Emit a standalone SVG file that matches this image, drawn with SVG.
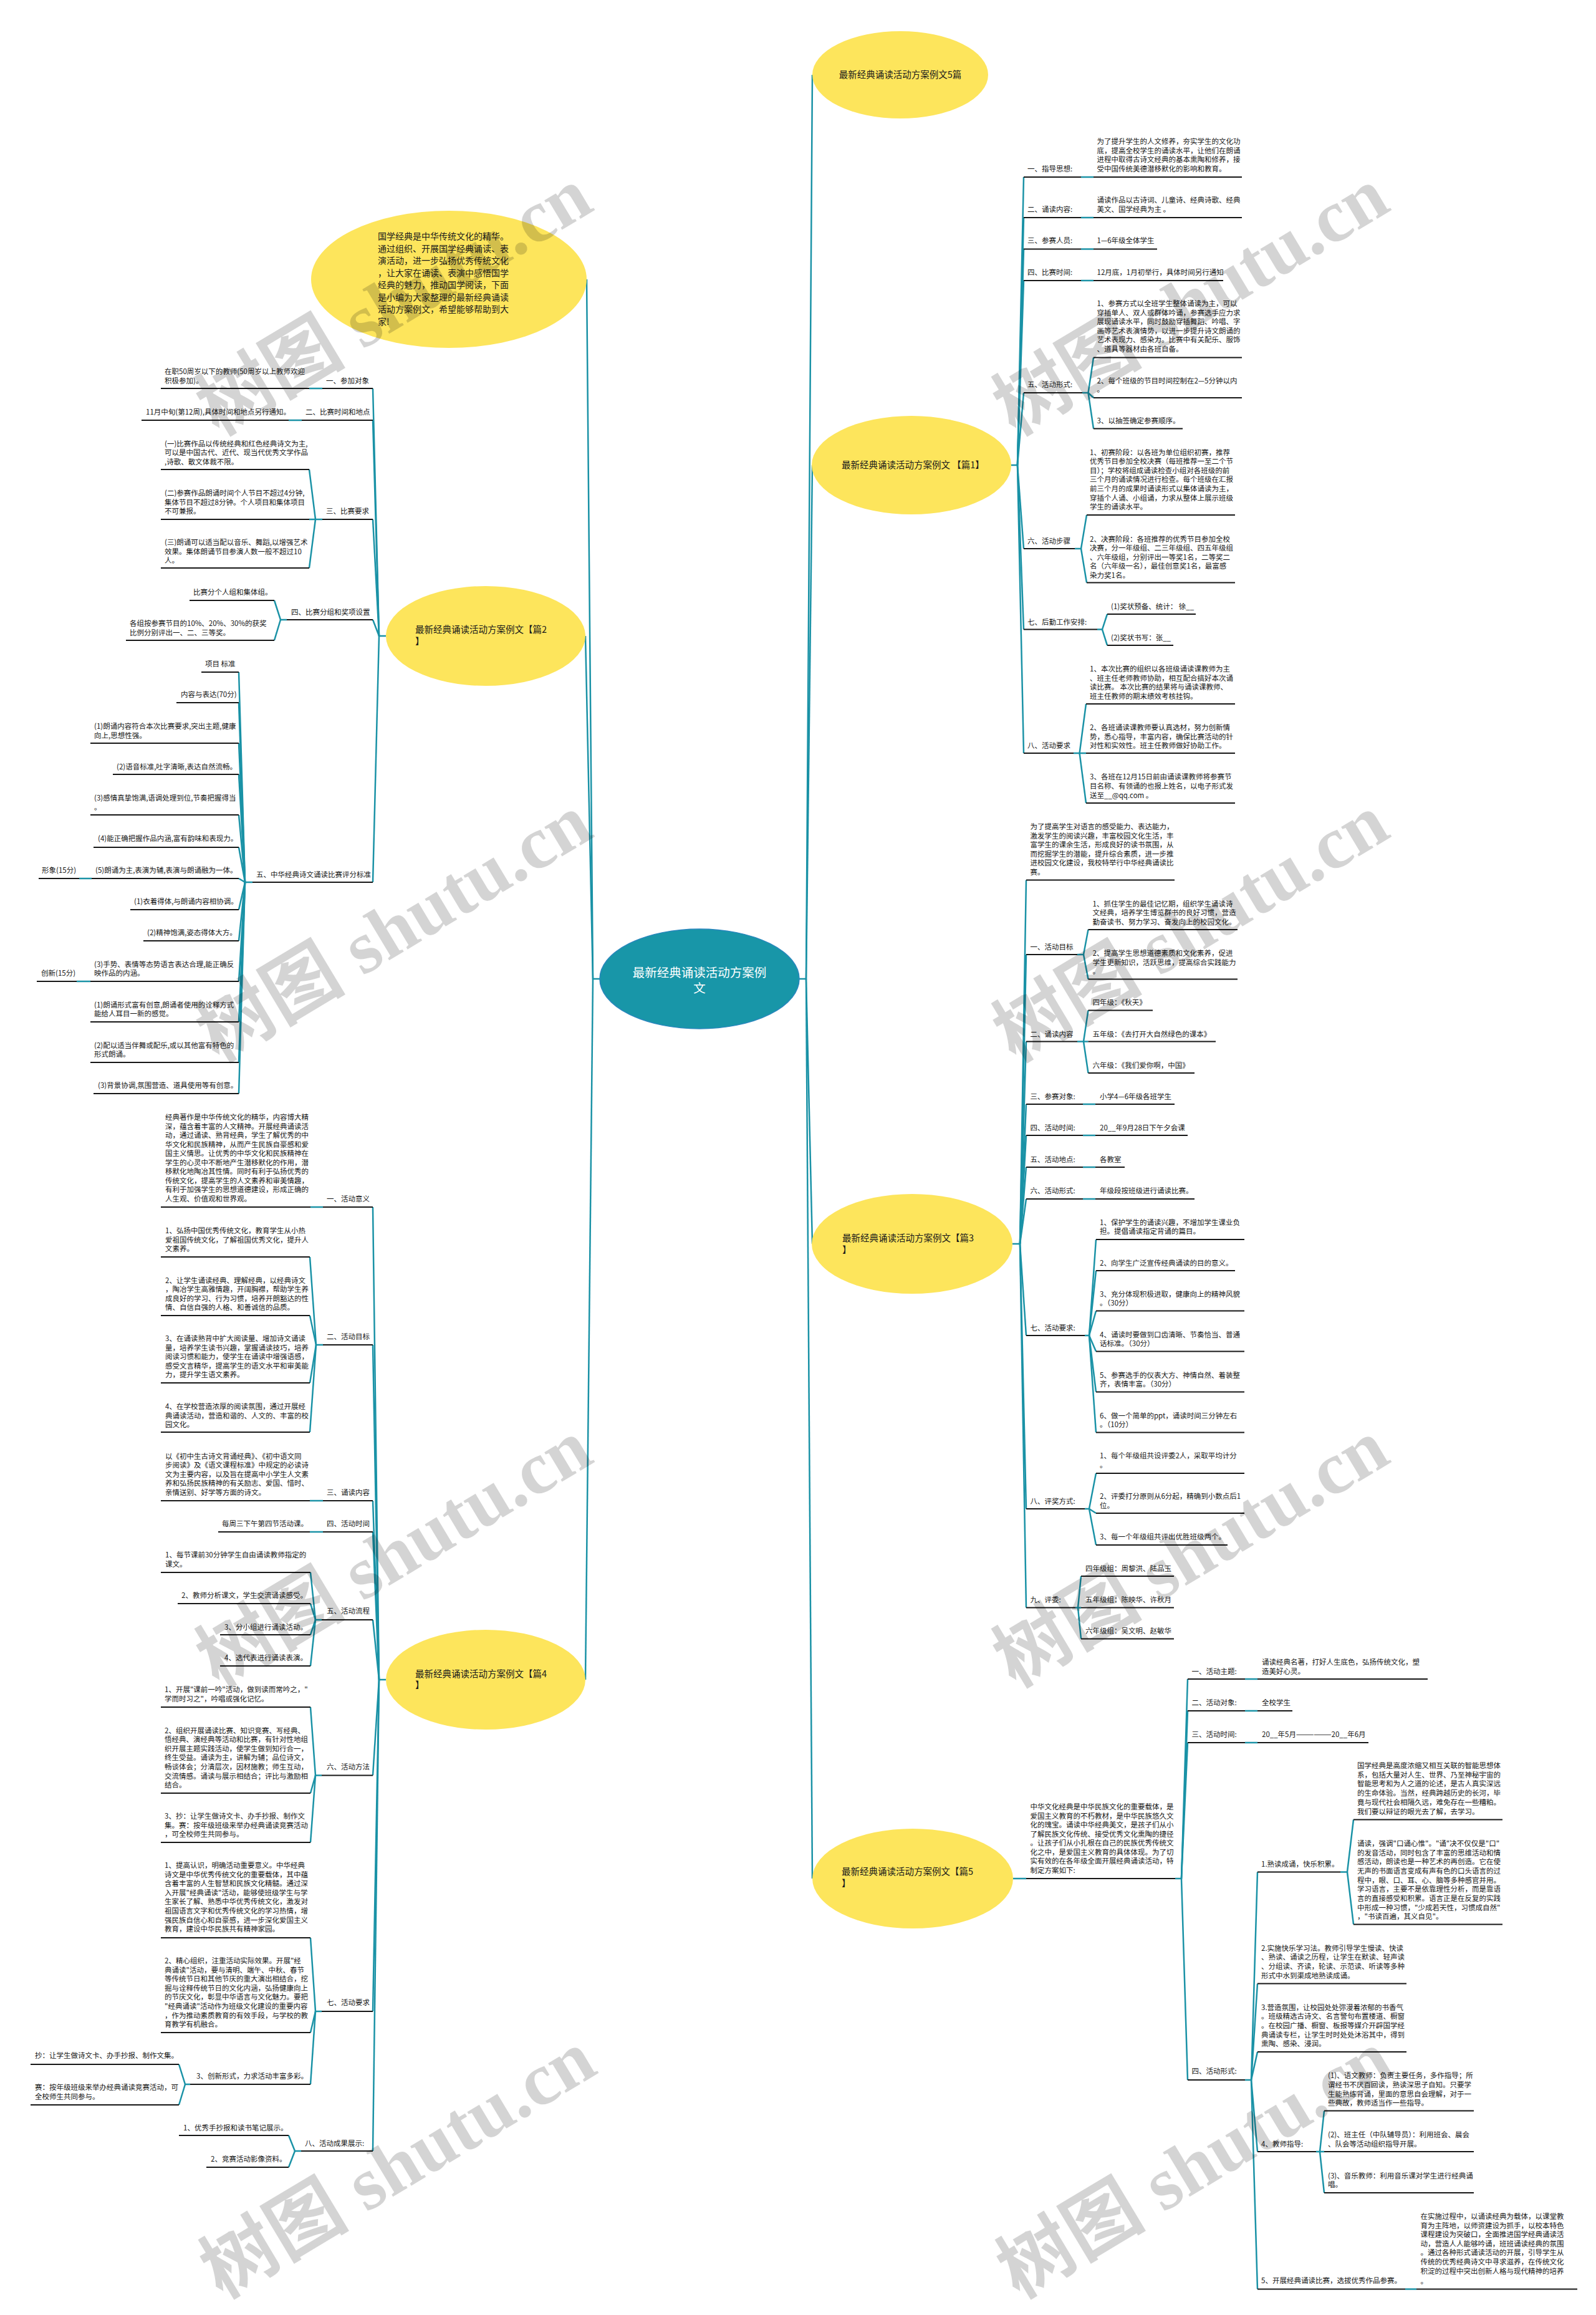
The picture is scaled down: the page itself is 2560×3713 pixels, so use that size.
<svg xmlns="http://www.w3.org/2000/svg" width="2560" height="3713" viewBox="0 0 2560 3713">
<style>
.t{font-family:"Noto Sans CJK SC","Noto Sans",sans-serif;font-size:11.5px;fill:#151515}
.h{font-family:"Noto Sans CJK SC","Noto Sans",sans-serif;font-size:14.5px;fill:#1a1a1a}
.i{font-family:"Noto Sans CJK SC","Noto Sans",sans-serif;font-size:14px;fill:#1a1a1a}
.u{stroke:#161616;stroke-width:2}
.el{fill:#fde55c}
#connectors path{stroke:#1a92a6;stroke-width:2.5;fill:none}
.wm{font-family:"Liberation Serif","Noto Sans CJK SC",serif;font-size:120px;font-weight:bold;fill:#000;fill-opacity:0.17}
</style>
<rect width="2560" height="3713" fill="#ffffff"/>

<g id="connectors">
<path d="M962,1570 H951 L941,448"/>
<path d="M951,1570 L939,1020"/>
<path d="M951,1570 L939,2694"/>
<path d="M1282,1570 H1293 L1303,120"/>
<path d="M1293,1570 L1303,746"/>
<path d="M1293,1570 L1303,1995"/>
<path d="M1293,1570 L1303,3013"/>
<path d="M619,1020 H608 L598,623"/>
<path d="M608,1020 L598,674"/>
<path d="M608,1020 L598,833"/>
<path d="M608,1020 L598,994"/>
<path d="M608,1020 L598,1415"/>
<path d="M496,623 H517"/>
<path d="M463,674 H484"/>
<path d="M517,833 H506 L496,753"/>
<path d="M506,833 H496"/>
<path d="M506,833 L496,911"/>
<path d="M460,994 H450 L440,963"/>
<path d="M450,994 L440,1027"/>
<path d="M405,1415 H393 L383,1078"/>
<path d="M393,1415 L383,1127"/>
<path d="M393,1415 L383,1192"/>
<path d="M393,1415 L383,1242"/>
<path d="M393,1415 L383,1307"/>
<path d="M393,1415 L383,1359"/>
<path d="M393,1415 L383,1409"/>
<path d="M393,1415 L383,1459"/>
<path d="M393,1415 L383,1509"/>
<path d="M393,1415 L383,1574"/>
<path d="M393,1415 L383,1639"/>
<path d="M393,1415 L383,1704"/>
<path d="M393,1415 L383,1754"/>
<path d="M127,1409 H147"/>
<path d="M123,1574 H145"/>
<path d="M619,2694 H608 L598,1936"/>
<path d="M608,2694 L598,2157"/>
<path d="M608,2694 L598,2407"/>
<path d="M608,2694 L598,2457"/>
<path d="M608,2694 L598,2598"/>
<path d="M608,2694 L598,2847.5"/>
<path d="M608,2694 L598,3226"/>
<path d="M608,2694 L598,3450"/>
<path d="M498,1936 H518"/>
<path d="M518,2157 H507 L497,2016"/>
<path d="M507,2157 L497,2110"/>
<path d="M507,2157 L497,2218"/>
<path d="M507,2157 L497,2297"/>
<path d="M497,2407 H518"/>
<path d="M497,2457 H518"/>
<path d="M516,2598 H506 L498,2522"/>
<path d="M506,2598 L498,2572"/>
<path d="M506,2598 L498,2622"/>
<path d="M506,2598 L498,2672"/>
<path d="M516,2847.5 H506 L498,2738"/>
<path d="M506,2847.5 L498,2876"/>
<path d="M506,2847.5 L498,2955"/>
<path d="M516,3226 H506 L498,3108"/>
<path d="M506,3226 L498,3260"/>
<path d="M506,3226 L498,3343"/>
<path d="M305,3343 H297 L287,3311"/>
<path d="M297,3343 L287,3376"/>
<path d="M483,3450 H473 L463,3425"/>
<path d="M473,3450 L463,3476"/>
<path d="M1622,746 H1632 L1642,284"/>
<path d="M1632,746 L1642,349"/>
<path d="M1632,746 L1642,399.5"/>
<path d="M1632,746 L1642,450"/>
<path d="M1632,746 L1642,630"/>
<path d="M1632,746 L1642,880"/>
<path d="M1632,746 L1642,1009.6"/>
<path d="M1632,746 L1642,1208"/>
<path d="M1734,284 H1754"/>
<path d="M1734,349 H1754"/>
<path d="M1734,399.5 H1754"/>
<path d="M1734,450 H1754"/>
<path d="M1736,630 H1745.5 L1754,573.5"/>
<path d="M1745.5,630 L1754,638"/>
<path d="M1745.5,630 L1754,687.5"/>
<path d="M1724,880 H1734 L1743,826"/>
<path d="M1734,880 L1743,934.5"/>
<path d="M1760,1009.6 H1768 L1776,985"/>
<path d="M1768,1009.6 L1776,1035"/>
<path d="M1722,1208 H1731.6 L1742,1129"/>
<path d="M1731.6,1208 H1742"/>
<path d="M1731.6,1208 L1742,1288"/>
<path d="M1624,1995 H1636 L1646,1411.6"/>
<path d="M1636,1995 L1646,1531"/>
<path d="M1636,1995 L1646,1670.5"/>
<path d="M1636,1995 L1646,1771"/>
<path d="M1636,1995 L1646,1821"/>
<path d="M1636,1995 L1646,1872"/>
<path d="M1636,1995 L1646,1923"/>
<path d="M1636,1995 L1646,2142"/>
<path d="M1636,1995 L1646,2420"/>
<path d="M1636,1995 L1646,2578.6"/>
<path d="M1728,1531 H1738 L1745.5,1491"/>
<path d="M1738,1531 L1745.5,1570.5"/>
<path d="M1728,1670.5 H1738 L1745.5,1620.5"/>
<path d="M1738,1670.5 H1745.5"/>
<path d="M1738,1670.5 L1745.5,1721"/>
<path d="M1737,1771 H1757"/>
<path d="M1737,1821 H1757"/>
<path d="M1737,1872 H1757"/>
<path d="M1737,1923 H1757"/>
<path d="M1740,2142 H1747 L1758,1988"/>
<path d="M1747,2142 L1758,2038"/>
<path d="M1747,2142 L1758,2102.6"/>
<path d="M1747,2142 L1758,2167.6"/>
<path d="M1747,2142 L1758,2232.5"/>
<path d="M1747,2142 L1758,2297.5"/>
<path d="M1740,2420 H1747 L1758,2363"/>
<path d="M1747,2420 L1758,2427"/>
<path d="M1747,2420 L1758,2478"/>
<path d="M1725,2578.6 H1729 L1734,2528"/>
<path d="M1729,2578.6 H1734"/>
<path d="M1729,2578.6 L1734,2628.5"/>
<path d="M1625,3013 H1646"/>
<path d="M1885,3013 H1895 L1905,2693"/>
<path d="M1895,3013 L1905,2744"/>
<path d="M1895,3013 L1905,2795"/>
<path d="M1895,3013 L1905,3336"/>
<path d="M1997,2693 H2017"/>
<path d="M1997,2744 H2017"/>
<path d="M1997,2795 H2017"/>
<path d="M1997,3336 H2007 L2017,3002.5"/>
<path d="M2007,3336 L2017,3181.5"/>
<path d="M2007,3336 L2017,3291"/>
<path d="M2007,3336 L2017,3451"/>
<path d="M2007,3336 L2017,3671.5"/>
<path d="M2150,3002.5 H2161 L2171,2918.5"/>
<path d="M2161,3002.5 L2171,3086.4"/>
<path d="M2111,3451 H2117 L2124,3385.6"/>
<path d="M2117,3451 H2124"/>
<path d="M2117,3451 L2124,3517"/>
<path d="M2254,3671.5 H2272"/>
</g>

<!-- ellipses -->
<g id="root"><ellipse cx="1122" cy="1570" rx="160" ry="80" fill="#1896a8" stroke="#2a86bd" stroke-width="1.5"/>
<text x="1122" y="1567" text-anchor="middle" style="font-family:'Noto Sans CJK SC',sans-serif;font-size:19.5px;fill:#ffffff">最新经典诵读活动方案例</text>
<text x="1122" y="1592" text-anchor="middle" style="font-family:'Noto Sans CJK SC',sans-serif;font-size:19.5px;fill:#ffffff">文</text></g>
<g id="intro"><ellipse class="el" cx="720" cy="448" rx="221" ry="110"/>
<text class="i"><tspan x="606" y="384">国学经典是中华传统文化的精华。</tspan><tspan x="606" y="403.5">通过组织、开展国学经典诵读、表</tspan><tspan x="606" y="423">演活动，进一步弘扬优秀传统文化</tspan><tspan x="606" y="442.5">，让大家在诵读、表演中感悟国学</tspan><tspan x="606" y="462">经典的魅力，推动国学阅读，下面</tspan><tspan x="606" y="481.6">是小编为大家整理的最新经典诵读</tspan><tspan x="606" y="501">活动方案例文，希望能够帮助到大</tspan><tspan x="606" y="520.6">家!</tspan></text></g>
<g id="p2"><ellipse class="el" cx="779" cy="1020" rx="160" ry="80"/>
<text class="h"><tspan x="666" y="1015">最新经典诵读活动方案例文【篇2</tspan><tspan x="666" y="1034">】</tspan></text></g>
<g id="p4"><ellipse class="el" cx="779" cy="2694" rx="160" ry="80"/>
<text class="h"><tspan x="666" y="2690">最新经典诵读活动方案例文【篇4</tspan><tspan x="666" y="2708">】</tspan></text></g>
<g id="p0"><ellipse class="el" cx="1444" cy="120" rx="141" ry="70"/>
<text class="h" x="1444" y="125" text-anchor="middle">最新经典诵读活动方案例文5篇</text></g>
<g id="p1"><ellipse class="el" cx="1462" cy="746" rx="160" ry="79"/>
<text class="h" x="1350" y="751">最新经典诵读活动方案例文 【篇1】</text></g>
<g id="p3"><ellipse class="el" cx="1463" cy="1995" rx="161" ry="80"/>
<text class="h"><tspan x="1351" y="1991">最新经典诵读活动方案例文【篇3</tspan><tspan x="1351" y="2010">】</tspan></text></g>
<g id="p5"><ellipse class="el" cx="1464" cy="3013" rx="161" ry="80"/>
<text class="h"><tspan x="1350" y="3007">最新经典诵读活动方案例文【篇5</tspan><tspan x="1350" y="3026">】</tspan></text></g>

<!-- 篇2 -->
<g id="L2_1"><text class="t" x="523" y="614.6">一、参加对象</text><line class="u" x1="517" y1="623" x2="598" y2="623"/></g>
<g id="L2_1a"><text class="t"><tspan x="264" y="600">在职50周岁以下的教师(50周岁以上教师欢迎</tspan><tspan x="264" y="614.6">积极参加)。</tspan></text><line class="u" x1="258" y1="623" x2="496" y2="623"/></g>
<g id="L2_2"><text class="t" x="490" y="665">二、比赛时间和地点</text><line class="u" x1="484" y1="674" x2="598" y2="674"/></g>
<g id="L2_2a"><text class="t" x="234" y="665">11月中旬(第12周),具体时间和地点另行通知。</text><line class="u" x1="227" y1="674" x2="463" y2="674"/></g>
<g id="L2_3"><text class="t" x="523" y="824">三、比赛要求</text><line class="u" x1="517" y1="833" x2="598" y2="833"/></g>
<g id="L2_3a"><text class="t"><tspan x="264" y="715.6">(一)比赛作品以传统经典和红色经典诗文为主,</tspan><tspan x="264" y="730">可以是中国古代、近代、现当代优秀文学作品</tspan><tspan x="264" y="744.6">,诗歌、散文体裁不限。</tspan></text><line class="u" x1="258" y1="753" x2="496" y2="753"/></g>
<g id="L2_3b"><text class="t"><tspan x="264" y="795">(二)参赛作品朗诵时间个人节目不超过4分钟,</tspan><tspan x="264" y="810">集体节目不超过8分钟。个人项目和集体项目</tspan><tspan x="264" y="824">不可兼报。</tspan></text><line class="u" x1="258" y1="833" x2="496" y2="833"/></g>
<g id="L2_3c"><text class="t"><tspan x="264" y="874">(三)朗诵可以适当配以音乐、舞蹈,以增强艺术</tspan><tspan x="264" y="889">效果。集体朗诵节目参演人数一般不超过10</tspan><tspan x="264" y="903">人。</tspan></text><line class="u" x1="258" y1="911" x2="496" y2="911"/></g>
<g id="L2_4"><text class="t" x="467" y="986">四、比赛分组和奖项设置</text><line class="u" x1="460" y1="994" x2="598" y2="994"/></g>
<g id="L2_4a"><text class="t" x="310" y="954">比赛分个人组和集体组。</text><line class="u" x1="304" y1="963" x2="440" y2="963"/></g>
<g id="L2_4b"><text class="t"><tspan x="208" y="1004">各组按参赛节目的10%、20%、30%的获奖</tspan><tspan x="208" y="1019">比例分别评出一、二、三等奖。</tspan></text><line class="u" x1="202" y1="1027" x2="440" y2="1027"/></g>
<g id="L2_5"><text class="t" x="411" y="1407">五、中华经典诗文诵读比赛评分标准</text><line class="u" x1="405" y1="1415" x2="598" y2="1415"/></g>
<g id="L2_5a"><text class="t" x="329" y="1069">项目 标准</text><line class="u" x1="323" y1="1078" x2="383" y2="1078"/></g>
<g id="L2_5b"><text class="t" x="290" y="1118">内容与表达(70分)</text><line class="u" x1="283" y1="1127" x2="383" y2="1127"/></g>
<g id="L2_5c"><text class="t"><tspan x="151" y="1169">(1)朗诵内容符合本次比赛要求,突出主题,健康</tspan><tspan x="151" y="1184">向上,思想性强。</tspan></text><line class="u" x1="145" y1="1192" x2="383" y2="1192"/></g>
<g id="L2_5d"><text class="t" x="187" y="1234">(2)语音标准,吐字清晰,表达自然流畅。</text><line class="u" x1="181" y1="1242" x2="383" y2="1242"/></g>
<g id="L2_5e"><text class="t"><tspan x="151" y="1284">(3)感情真挚饱满,语调处理到位,节奏把握得当</tspan><tspan x="151" y="1298.6">。</tspan></text><line class="u" x1="145" y1="1307" x2="383" y2="1307"/></g>
<g id="L2_5f"><text class="t" x="157" y="1349">(4)能正确把握作品内涵,富有韵味和表现力。</text><line class="u" x1="150" y1="1359" x2="383" y2="1359"/></g>
<g id="L2_5g"><text class="t" x="153" y="1400">(5)朗诵为主,表演为辅,表演与朗诵融为一体。</text><line class="u" x1="147" y1="1409" x2="383" y2="1409"/></g>
<g id="L2_5g1"><text class="t" x="67" y="1400">形象(15分)</text><line class="u" x1="62" y1="1409" x2="127" y2="1409"/></g>
<g id="L2_5h"><text class="t" x="215" y="1450">(1)衣着得体,与朗诵内容相协调。</text><line class="u" x1="209" y1="1459" x2="383" y2="1459"/></g>
<g id="L2_5i"><text class="t" x="236" y="1500">(2)精神饱满,姿态得体大方。</text><line class="u" x1="230" y1="1509" x2="383" y2="1509"/></g>
<g id="L2_5j"><text class="t"><tspan x="151" y="1551">(3)手势、表情等态势语言表达合理,能正确反</tspan><tspan x="151" y="1565">映作品的内涵。</tspan></text><line class="u" x1="145" y1="1574" x2="383" y2="1574"/></g>
<g id="L2_5j1"><text class="t" x="66" y="1565">创新(15分)</text><line class="u" x1="59" y1="1574" x2="123" y2="1574"/></g>
<g id="L2_5k"><text class="t"><tspan x="151" y="1616">(1)朗诵形式富有创意,朗诵者使用的诠释方式</tspan><tspan x="151" y="1630">能给人耳目一新的感觉。</tspan></text><line class="u" x1="145" y1="1639" x2="383" y2="1639"/></g>
<g id="L2_5l"><text class="t"><tspan x="151" y="1681">(2)配以适当伴舞或配乐,或以其他富有特色的</tspan><tspan x="151" y="1695">形式朗诵。</tspan></text><line class="u" x1="145" y1="1704" x2="383" y2="1704"/></g>
<g id="L2_5m"><text class="t" x="157" y="1745">(3)背景协调,氛围营造、道具使用等有创意。</text><line class="u" x1="150" y1="1754" x2="383" y2="1754"/></g>

<!-- 篇4 -->
<g id="L4_1"><text class="t" x="524" y="1927">一、活动意义</text><line class="u" x1="518" y1="1936" x2="598" y2="1936"/></g>
<g id="L4_1a"><text class="t"><tspan x="265" y="1796">经典著作是中华传统文化的精华，内容博大精</tspan><tspan x="265" y="1810.5">深，蕴含着丰富的人文精神。开展经典诵读活</tspan><tspan x="265" y="1825.1">动，通过诵读、熟背经典，学生了解优秀的中</tspan><tspan x="265" y="1839.7">华文化和民族精神，从而产生民族自豪感和爱</tspan><tspan x="265" y="1854.2">国主义情思。让优秀的中华文化和民族精神在</tspan><tspan x="265" y="1868.8">学生的心灵中不断地产生潜移默化的作用，潜</tspan><tspan x="265" y="1883.3">移默化地陶冶其性情。同时有利于弘扬优秀的</tspan><tspan x="265" y="1897.9">传统文化，提高学生的人文素养和审美情趣，</tspan><tspan x="265" y="1912.4">有利于加强学生的思想道德建设，形成正确的</tspan><tspan x="265" y="1927">人生观、价值观和世界观。</tspan></text><line class="u" x1="258" y1="1936" x2="498" y2="1936"/></g>
<g id="L4_2"><text class="t" x="524" y="2148">二、活动目标</text><line class="u" x1="518" y1="2157" x2="598" y2="2157"/></g>
<g id="L4_2a"><text class="t"><tspan x="265" y="1978">1、弘扬中国优秀传统文化，教育学生从小热</tspan><tspan x="265" y="1992.5">爱祖国传统文化，了解祖国优秀文化，提升人</tspan><tspan x="265" y="2007">文素养。</tspan></text><line class="u" x1="258" y1="2016" x2="497" y2="2016"/></g>
<g id="L4_2b"><text class="t"><tspan x="265" y="2057.6">2、让学生诵读经典、理解经典，以经典诗文</tspan><tspan x="265" y="2072.2">，陶冶学生高雅情趣，开阔胸襟，帮助学生养</tspan><tspan x="265" y="2086.8">成良好的学习、行为习惯，培养开朗豁达的性</tspan><tspan x="265" y="2101.4">情、自信自强的人格、和善诚信的品质。</tspan></text><line class="u" x1="258" y1="2110" x2="497" y2="2110"/></g>
<g id="L4_2c"><text class="t"><tspan x="265" y="2151">3、在诵读熟背中扩大阅读量、增加诗文诵读</tspan><tspan x="265" y="2165.6">量，培养学生读书兴趣，掌握诵读技巧，培养</tspan><tspan x="265" y="2180.2">阅读习惯和能力，使学生在诵读中增强语感，</tspan><tspan x="265" y="2194.8">感受文言精华，提高学生的语文水平和审美能</tspan><tspan x="265" y="2209.4">力，提升学生语文素养。</tspan></text><line class="u" x1="258" y1="2218" x2="497" y2="2218"/></g>
<g id="L4_2d"><text class="t"><tspan x="265" y="2260">4、在学校营造浓厚的阅读氛围，通过开展经</tspan><tspan x="265" y="2274.6">典诵读活动，营造和谐的、人文的、丰富的校</tspan><tspan x="265" y="2289.2">园文化。</tspan></text><line class="u" x1="258" y1="2297" x2="497" y2="2297"/></g>
<g id="L4_3"><text class="t" x="524" y="2398">三、诵读内容</text><line class="u" x1="518" y1="2407" x2="598" y2="2407"/></g>
<g id="L4_3a"><text class="t"><tspan x="265" y="2339.5">以《初中生古诗文背诵经典》、《初中语文同</tspan><tspan x="265" y="2354">步阅读》及《语文课程标准》中规定的必读诗</tspan><tspan x="265" y="2368.6">文为主要内容，以及旨在提高中小学生人文素</tspan><tspan x="265" y="2383.2">养和弘扬民族精神的有关励志、爱国、惜时、</tspan><tspan x="265" y="2398">亲情送别、好学等方面的诗文。</tspan></text><line class="u" x1="258" y1="2407" x2="497" y2="2407"/></g>
<g id="L4_4"><text class="t" x="524" y="2448">四、活动时间</text><line class="u" x1="518" y1="2457" x2="598" y2="2457"/></g>
<g id="L4_4a"><text class="t" x="356" y="2448">每周三下午第四节活动课。</text><line class="u" x1="350" y1="2457" x2="497" y2="2457"/></g>
<g id="L4_5"><text class="t" x="524" y="2588">五、活动流程</text><line class="u" x1="516" y1="2598" x2="598" y2="2598"/></g>
<g id="L4_5a"><text class="t"><tspan x="265" y="2498">1、每节课前30分钟学生自由诵读教师指定的</tspan><tspan x="265" y="2513">课文。</tspan></text><line class="u" x1="258" y1="2522" x2="498" y2="2522"/></g>
<g id="L4_5b"><text class="t" x="291" y="2563">2、教师分析课文，学生交流诵读感受。</text><line class="u" x1="285" y1="2572" x2="498" y2="2572"/></g>
<g id="L4_5c"><text class="t" x="360" y="2614">3、分小组进行诵读活动。</text><line class="u" x1="353" y1="2622" x2="498" y2="2622"/></g>
<g id="L4_5d"><text class="t" x="360" y="2663">4、选代表进行诵读表演。</text><line class="u" x1="353" y1="2672" x2="498" y2="2672"/></g>
<g id="L4_6"><text class="t" x="524" y="2837.5">六、活动方法</text><line class="u" x1="516" y1="2847.5" x2="598" y2="2847.5"/></g>
<g id="L4_6a"><text class="t"><tspan x="264" y="2714">1、开展"课前一吟"活动，做到读而常吟之，"</tspan><tspan x="264" y="2729">学而时习之"，吟唱或强化记忆。</tspan></text><line class="u" x1="258" y1="2738" x2="498" y2="2738"/></g>
<g id="L4_6b"><text class="t"><tspan x="264" y="2779.5">2、组织开展诵读比赛、知识竞赛、写经典、</tspan><tspan x="264" y="2794.1">悟经典、演经典等活动和比赛，有针对性地组</tspan><tspan x="264" y="2808.7">织开展主题实践活动，使学生做到知行合一，</tspan><tspan x="264" y="2823.3">终生受益。诵读为主，讲解为辅；品位诗文，</tspan><tspan x="264" y="2837.9">畅谈体会；分清层次，因材施教；师生互动，</tspan><tspan x="264" y="2852.5">交流情感。诵读与展示相结合；评比与激励相</tspan><tspan x="264" y="2867.1">结合。</tspan></text><line class="u" x1="258" y1="2876" x2="498" y2="2876"/></g>
<g id="L4_6c"><text class="t"><tspan x="264" y="2917">3、抄：让学生做诗文卡、办手抄报、制作文</tspan><tspan x="264" y="2931.5">集。赛：按年级班级来举办经典诵读竞赛活动</tspan><tspan x="264" y="2946">，可全校师生共同参与。</tspan></text><line class="u" x1="258" y1="2955" x2="498" y2="2955"/></g>
<g id="L4_7"><text class="t" x="524" y="3216">七、活动要求</text><line class="u" x1="516" y1="3226" x2="598" y2="3226"/></g>
<g id="L4_7a"><text class="t"><tspan x="264" y="2996">1、提高认识，明确活动重要意义。中华经典</tspan><tspan x="264" y="3010.6">诗文是中华优秀传统文化的重要载体，其中蕴</tspan><tspan x="264" y="3025.2">含着丰富的人生智慧和民族文化精髓。通过深</tspan><tspan x="264" y="3039.8">入开展"经典诵读"活动，能够使班级学生与学</tspan><tspan x="264" y="3054.4">生家长了解、熟悉中华优秀传统文化，激发对</tspan><tspan x="264" y="3069">祖国语言文字和优秀传统文化的学习热情，增</tspan><tspan x="264" y="3083.6">强民族自信心和自豪感，进一步深化爱国主义</tspan><tspan x="264" y="3098.2">教育，建设中华民族共有精神家园。</tspan></text><line class="u" x1="258" y1="3108" x2="498" y2="3108"/></g>
<g id="L4_7b"><text class="t"><tspan x="264" y="3149">2、精心组织，注重活动实际效果。开展"经</tspan><tspan x="264" y="3163.6">典诵读"活动，要与清明、端午、中秋、春节</tspan><tspan x="264" y="3178.2">等传统节日和其他节庆的重大演出相结合，挖</tspan><tspan x="264" y="3192.8">掘与诠释传统节日的文化内涵，弘扬健康向上</tspan><tspan x="264" y="3207.4">的节庆文化，彰显中华语言与文化魅力。要把</tspan><tspan x="264" y="3222">"经典诵读"活动作为班级文化建设的重要内容</tspan><tspan x="264" y="3236.6">，作为推动素质教育的有效手段，与学校的教</tspan><tspan x="264" y="3251.2">育教学有机融合。</tspan></text><line class="u" x1="258" y1="3260" x2="498" y2="3260"/></g>
<g id="L4_7c"><text class="t" x="315" y="3334">3、创新形式，力求活动丰富多彩。</text><line class="u" x1="305" y1="3343" x2="498" y2="3343"/></g>
<g id="L4_7c1"><text class="t" x="56" y="3301">抄：让学生做诗文卡、办手抄报、制作文集。</text><line class="u" x1="49" y1="3311" x2="287" y2="3311"/></g>
<g id="L4_7c2"><text class="t"><tspan x="56" y="3352">赛：按年级班级来举办经典诵读竞赛活动，可</tspan><tspan x="56" y="3367">全校师生共同参与。</tspan></text><line class="u" x1="49" y1="3376" x2="287" y2="3376"/></g>
<g id="L4_8"><text class="t" x="489" y="3441.5">八、活动成果展示:</text><line class="u" x1="483" y1="3450" x2="598" y2="3450"/></g>
<g id="L4_8a"><text class="t" x="294" y="3417">1、优秀手抄报和读书笔记展示。</text><line class="u" x1="287" y1="3425" x2="463" y2="3425"/></g>
<g id="L4_8b"><text class="t" x="338" y="3467">2、竞赛活动影像资料。</text><line class="u" x1="331" y1="3476" x2="463" y2="3476"/></g>

<!-- 篇1 -->
<g id="R1_1"><text class="t" x="1648" y="275">一、指导思想:</text><line class="u" x1="1642" y1="284" x2="1734" y2="284"/></g>
<g id="R1_1a"><text class="t"><tspan x="1759.5" y="231">为了提升学生的人文修养，夯实学生的文化功</tspan><tspan x="1759.5" y="245.6">底，提高全校学生的诵读水平，让他们在朗诵</tspan><tspan x="1759.5" y="260.2">进程中取得古诗文经典的基本熏陶和修养，接</tspan><tspan x="1759.5" y="275">受中国传统美德潜移默化的影响和教育。</tspan></text><line class="u" x1="1754" y1="284" x2="1992" y2="284"/></g>
<g id="R1_2"><text class="t" x="1648" y="339.6">二、诵读内容:</text><line class="u" x1="1642" y1="349" x2="1734" y2="349"/></g>
<g id="R1_2a"><text class="t"><tspan x="1759.5" y="325">诵读作品以古诗词、儿童诗、经典诗歌、经典</tspan><tspan x="1759.5" y="339.6">美文、国学经典为主 。</tspan></text><line class="u" x1="1754" y1="349" x2="1992" y2="349"/></g>
<g id="R1_3"><text class="t" x="1648" y="390">三、参赛人员:</text><line class="u" x1="1642" y1="399.5" x2="1734" y2="399.5"/></g>
<g id="R1_3a"><text class="t" x="1759.5" y="390">1—6年级全体学生</text><line class="u" x1="1754" y1="399.5" x2="1856" y2="399.5"/></g>
<g id="R1_4"><text class="t" x="1648" y="440.6">四、比赛时间:</text><line class="u" x1="1642" y1="450" x2="1734" y2="450"/></g>
<g id="R1_4a"><text class="t" x="1759.5" y="440.6">12月底，1月初举行，具体时间另行通知</text><line class="u" x1="1754" y1="450" x2="1962" y2="450"/></g>
<g id="R1_5"><text class="t" x="1648" y="621">五、活动形式:</text><line class="u" x1="1642" y1="630" x2="1736" y2="630"/></g>
<g id="R1_5a"><text class="t"><tspan x="1759.5" y="491">1、参赛方式以全班学生整体诵读为主，可以</tspan><tspan x="1759.5" y="505.6">穿插单人、双人或群体吟诵，参赛选手应力求</tspan><tspan x="1759.5" y="520.2">展现诵读水平，同时鼓励穿插舞蹈、吟唱、字</tspan><tspan x="1759.5" y="534.8">画等艺术表演情势，以进一步提升诗文朗诵的</tspan><tspan x="1759.5" y="549.4">艺术表现力、感染力。比赛中有关配乐、服饰</tspan><tspan x="1759.5" y="564">、道具等器材由各班自备。</tspan></text><line class="u" x1="1754" y1="573.5" x2="1992" y2="573.5"/></g>
<g id="R1_5b"><text class="t"><tspan x="1759.5" y="614.5">2、每个班级的节目时间控制在2—5分钟以内</tspan><tspan x="1759.5" y="629">。</tspan></text><line class="u" x1="1754" y1="638" x2="1992" y2="638"/></g>
<g id="R1_5c"><text class="t" x="1759.5" y="679">3、以抽签确定参赛顺序。</text><line class="u" x1="1754" y1="687.5" x2="1897" y2="687.5"/></g>
<g id="R1_6"><text class="t" x="1648" y="872">六、活动步骤</text><line class="u" x1="1642" y1="880" x2="1724" y2="880"/></g>
<g id="R1_6a"><text class="t"><tspan x="1748" y="729.6">1、初赛阶段：以各班为单位组织初赛，推荐</tspan><tspan x="1748" y="744.2">优秀节目参加全校决赛（每班推荐一至二个节</tspan><tspan x="1748" y="758.8">目）；学校将组成诵读检查小组对各班级的前</tspan><tspan x="1748" y="773.4">三个月的诵读情况进行检查。每个班级在汇报</tspan><tspan x="1748" y="788">前三个月的成果时诵读形式以集体诵读为主，</tspan><tspan x="1748" y="802.6">穿插个人诵、小组诵，力求从整体上展示班级</tspan><tspan x="1748" y="817.2">学生的诵读水平。</tspan></text><line class="u" x1="1743" y1="826" x2="1981" y2="826"/></g>
<g id="R1_6b"><text class="t"><tspan x="1748" y="868.5">2、决赛阶段：各班推荐的优秀节目参加全校</tspan><tspan x="1748" y="883">决赛，分一年级组、二三年级组、四五年级组</tspan><tspan x="1748" y="897.5">、六年级组，分别评出一等奖1名，二等奖二</tspan><tspan x="1748" y="912">名（六年级一名），最佳创意奖1名，最富感</tspan><tspan x="1748" y="926.5">染力奖1名。</tspan></text><line class="u" x1="1743" y1="934.5" x2="1981" y2="934.5"/></g>
<g id="R1_7"><text class="t" x="1648" y="1001.5">七、后勤工作安排:</text><line class="u" x1="1642" y1="1009.6" x2="1760" y2="1009.6"/></g>
<g id="R1_7a"><text class="t" x="1782" y="976.5">(1)奖状预备、统计： 徐__</text><line class="u" x1="1776" y1="985" x2="1918" y2="985"/></g>
<g id="R1_7b"><text class="t" x="1782" y="1027">(2)奖状书写：张__</text><line class="u" x1="1776" y1="1035" x2="1882" y2="1035"/></g>
<g id="R1_8"><text class="t" x="1648" y="1200">八、活动要求</text><line class="u" x1="1642" y1="1208" x2="1722" y2="1208"/></g>
<g id="R1_8a"><text class="t"><tspan x="1748" y="1077">1、本次比赛的组织以各班级诵读课教师为主</tspan><tspan x="1748" y="1091.6">、班主任老师教师协助，相互配合搞好本次诵</tspan><tspan x="1748" y="1106.2">读比赛。 本次比赛的结果将与诵读课教师、</tspan><tspan x="1748" y="1121">班主任教师的期末绩效考核挂钩。</tspan></text><line class="u" x1="1742" y1="1129" x2="1981" y2="1129"/></g>
<g id="R1_8b"><text class="t"><tspan x="1748" y="1171">2、各班诵读课教师要认真选材，努力创新情</tspan><tspan x="1748" y="1185.6">势，悉心指导，丰富内容，确保比赛活动的针</tspan><tspan x="1748" y="1200">对性和实效性。班主任教师做好协助工作。</tspan></text><line class="u" x1="1742" y1="1208" x2="1981" y2="1208"/></g>
<g id="R1_8c"><text class="t"><tspan x="1748" y="1250">3、各班在12月15日前由诵读课教师将参赛节</tspan><tspan x="1748" y="1265">目名称、有领诵的也报上姓名，以电子形式发</tspan><tspan x="1748" y="1280">送至__@qq.com 。</tspan></text><line class="u" x1="1742" y1="1288" x2="1981" y2="1288"/></g>

<!-- 篇3 -->
<g id="R3_0"><text class="t"><tspan x="1652.5" y="1330">为了提高学生对语言的感受能力、表达能力，</tspan><tspan x="1652.5" y="1344.6">激发学生的阅读兴趣，丰富校园文化生活，丰</tspan><tspan x="1652.5" y="1359.2">富学生的课余生活，形成良好的读书氛围，从</tspan><tspan x="1652.5" y="1373.8">而挖掘学生的潜能，提升综合素质，进一步推</tspan><tspan x="1652.5" y="1388.4">进校园文化建设，我校特举行中华经典诵读比</tspan><tspan x="1652.5" y="1403">赛。</tspan></text><line class="u" x1="1646" y1="1411.6" x2="1884" y2="1411.6"/></g>
<g id="R3_1"><text class="t" x="1652.5" y="1522.75">一、活动目标</text><line class="u" x1="1646" y1="1531" x2="1728" y2="1531"/></g>
<g id="R3_1a"><text class="t"><tspan x="1752.5" y="1453.6">1、抓住学生的最佳记忆期，组织学生诵读诗</tspan><tspan x="1752.5" y="1468.2">文经典，培养学生博览群书的良好习惯，营造</tspan><tspan x="1752.5" y="1482.8">勤奋读书、努力学习、奋发向上的校园文化。</tspan></text><line class="u" x1="1745.5" y1="1491" x2="1985" y2="1491"/></g>
<g id="R3_1b"><text class="t"><tspan x="1752.5" y="1533">2、提高学生思想道德素质和文化素养，促进</tspan><tspan x="1752.5" y="1547.6">学生更新知识，活跃思维，提高综合实践能力</tspan><tspan x="1752.5" y="1562.2">。</tspan></text><line class="u" x1="1745.5" y1="1570.5" x2="1985" y2="1570.5"/></g>
<g id="R3_2"><text class="t" x="1652.5" y="1662.5">二、诵读内容</text><line class="u" x1="1646" y1="1670.5" x2="1728" y2="1670.5"/></g>
<g id="R3_2a"><text class="t" x="1752.5" y="1612">四年级：《秋天》</text><line class="u" x1="1745.5" y1="1620.5" x2="1849" y2="1620.5"/></g>
<g id="R3_2b"><text class="t" x="1752.5" y="1662.5">五年级：《去打开大自然绿色的课本》</text><line class="u" x1="1745.5" y1="1670.5" x2="1950" y2="1670.5"/></g>
<g id="R3_2c"><text class="t" x="1752.5" y="1713">六年级：《我们爱你啊，中国》</text><line class="u" x1="1745.5" y1="1721" x2="1916" y2="1721"/></g>
<g id="R3_3"><text class="t" x="1652.5" y="1763">三、参赛对象:</text><line class="u" x1="1646" y1="1771" x2="1737" y2="1771"/></g>
<g id="R3_3a"><text class="t" x="1764" y="1763">小学4—6年级各班学生</text><line class="u" x1="1757" y1="1771" x2="1884" y2="1771"/></g>
<g id="R3_4"><text class="t" x="1652.5" y="1813">四、活动时间:</text><line class="u" x1="1646" y1="1821" x2="1737" y2="1821"/></g>
<g id="R3_4a"><text class="t" x="1764" y="1813">20__年9月28日下午夕会课</text><line class="u" x1="1757" y1="1821" x2="1905" y2="1821"/></g>
<g id="R3_5"><text class="t" x="1652.5" y="1864">五、活动地点:</text><line class="u" x1="1646" y1="1872" x2="1737" y2="1872"/></g>
<g id="R3_5a"><text class="t" x="1764" y="1864">各教室</text><line class="u" x1="1757" y1="1872" x2="1804" y2="1872"/></g>
<g id="R3_6"><text class="t" x="1652.5" y="1914">六、活动形式:</text><line class="u" x1="1646" y1="1923" x2="1737" y2="1923"/></g>
<g id="R3_6a"><text class="t" x="1764" y="1914">年级段按班级进行诵读比赛。</text><line class="u" x1="1757" y1="1923" x2="1916" y2="1923"/></g>
<g id="R3_7"><text class="t" x="1652.5" y="2134">七、活动要求:</text><line class="u" x1="1646" y1="2142" x2="1740" y2="2142"/></g>
<g id="R3_7a"><text class="t"><tspan x="1764" y="1964.6">1、保护学生的诵读兴趣，不增加学生课业负</tspan><tspan x="1764" y="1979">担。提倡诵读指定背诵的篇目。</tspan></text><line class="u" x1="1758" y1="1988" x2="1996" y2="1988"/></g>
<g id="R3_7b"><text class="t" x="1764" y="2030">2、向学生广泛宣传经典诵读的目的意义。</text><line class="u" x1="1758" y1="2038" x2="1981" y2="2038"/></g>
<g id="R3_7c"><text class="t"><tspan x="1764" y="2079.5">3、充分体现积极进取，健康向上的精神风貌</tspan><tspan x="1764" y="2094">。（30分）</tspan></text><line class="u" x1="1758" y1="2102.6" x2="1996" y2="2102.6"/></g>
<g id="R3_7d"><text class="t"><tspan x="1764" y="2145">4、诵读时要做到口齿清晰、节奏恰当、普通</tspan><tspan x="1764" y="2159">话标准。（30分）</tspan></text><line class="u" x1="1758" y1="2167.6" x2="1996" y2="2167.6"/></g>
<g id="R3_7e"><text class="t"><tspan x="1764" y="2210">5、参赛选手的仪表大方、神情自然、着装整</tspan><tspan x="1764" y="2224">齐，表情丰富。（30分）</tspan></text><line class="u" x1="1758" y1="2232.5" x2="1996" y2="2232.5"/></g>
<g id="R3_7f"><text class="t"><tspan x="1764" y="2275">6、做一个简单的ppt，诵读时间三分钟左右</tspan><tspan x="1764" y="2289">。（10分）</tspan></text><line class="u" x1="1758" y1="2297.5" x2="1996" y2="2297.5"/></g>
<g id="R3_8"><text class="t" x="1652.5" y="2411.5">八、评奖方式:</text><line class="u" x1="1646" y1="2420" x2="1740" y2="2420"/></g>
<g id="R3_8a"><text class="t"><tspan x="1764" y="2339">1、每个年级组共设评委2人，采取平均计分</tspan><tspan x="1764" y="2354">。</tspan></text><line class="u" x1="1758" y1="2363" x2="1996" y2="2363"/></g>
<g id="R3_8b"><text class="t"><tspan x="1764" y="2404">2、评委打分原则从6分起，精确到小数点后1</tspan><tspan x="1764" y="2419">位。</tspan></text><line class="u" x1="1758" y1="2427" x2="1996" y2="2427"/></g>
<g id="R3_8c"><text class="t" x="1764" y="2469">3、每一个年级组共评出优胜班级两个。</text><line class="u" x1="1758" y1="2478" x2="1969" y2="2478"/></g>
<g id="R3_9"><text class="t" x="1652.5" y="2569.5">九、评委:</text><line class="u" x1="1646" y1="2578.6" x2="1725" y2="2578.6"/></g>
<g id="R3_9a"><text class="t" x="1741" y="2519.6">四年级组：周黎洪、陆品玉</text><line class="u" x1="1734" y1="2528" x2="1883" y2="2528"/></g>
<g id="R3_9b"><text class="t" x="1741" y="2569.5">五年级组：陈映华、许秋月</text><line class="u" x1="1734" y1="2578.6" x2="1883" y2="2578.6"/></g>
<g id="R3_9c"><text class="t" x="1741" y="2620">六年级组：吴文明、赵敏华</text><line class="u" x1="1734" y1="2628.5" x2="1883" y2="2628.5"/></g>

<!-- 篇5 -->
<g id="R5_0"><text class="t"><tspan x="1652.5" y="2902">中华文化经典是中华民族文化的重要载体，是</tspan><tspan x="1652.5" y="2916.55">爱国主义教育的不朽教材，是中华民族悠久文</tspan><tspan x="1652.5" y="2931.1">化的瑰宝。诵读中华经典美文，是孩子们从小</tspan><tspan x="1652.5" y="2945.65">了解民族文化传统、接受优秀文化熏陶的捷径</tspan><tspan x="1652.5" y="2960.2">。让孩子们从小扎根在自己的民族优秀传统文</tspan><tspan x="1652.5" y="2974.75">化之中，是爱国主义教育的具体体现。为了切</tspan><tspan x="1652.5" y="2989.3">实有效的在各年级全面开展经典诵读活动，特</tspan><tspan x="1652.5" y="3003.85">制定方案如下:</tspan></text><line class="u" x1="1646" y1="3013" x2="1885" y2="3013"/></g>
<g id="R5_1"><text class="t" x="1911.6" y="2684.6">一、活动主题:</text><line class="u" x1="1905" y1="2693" x2="1997" y2="2693"/></g>
<g id="R5_1a"><text class="t"><tspan x="2024" y="2670">诵读经典名著，打好人生底色，弘扬传统文化，塑</tspan><tspan x="2024" y="2684.6">造美好心灵。</tspan></text><line class="u" x1="2017" y1="2693" x2="2290" y2="2693"/></g>
<g id="R5_2"><text class="t" x="1911.6" y="2735">二、活动对象:</text><line class="u" x1="1905" y1="2744" x2="1997" y2="2744"/></g>
<g id="R5_2a"><text class="t" x="2024" y="2735">全校学生</text><line class="u" x1="2017" y1="2744" x2="2073" y2="2744"/></g>
<g id="R5_3"><text class="t" x="1911.6" y="2786">三、活动时间:</text><line class="u" x1="1905" y1="2795" x2="1997" y2="2795"/></g>
<g id="R5_3a"><text class="t" x="2024" y="2786">20__年5月——————20__年6月</text><line class="u" x1="2017" y1="2795" x2="2195" y2="2795"/></g>
<g id="R5_4"><text class="t" x="1911.6" y="3326">四、活动形式:</text><line class="u" x1="1905" y1="3336" x2="1997" y2="3336"/></g>
<g id="R5_4a"><text class="t" x="2023" y="2993.6">1.熟读成诵，快乐积累。</text><line class="u" x1="2017" y1="3002.5" x2="2150" y2="3002.5"/></g>
<g id="R5_4a1"><text class="t"><tspan x="2177" y="2836">国学经典是高度浓缩又相互关联的智能思想体</tspan><tspan x="2177" y="2850.7">系，包括大量对人生、世界、乃至神秘宇宙的</tspan><tspan x="2177" y="2865.4">智能思考和为人之道的论述，是古人真实深远</tspan><tspan x="2177" y="2880">的生命体验。当然，经典跨越历史的长河，毕</tspan><tspan x="2177" y="2894.7">竟与现代社会相隔久远，难免存在一些糟粕。</tspan><tspan x="2177" y="2909.5">我们要以辩证的眼光去了解，去学习。</tspan></text><line class="u" x1="2171" y1="2918.5" x2="2410" y2="2918.5"/></g>
<g id="R5_4a2"><text class="t"><tspan x="2177" y="2961">诵读，强调"口诵心惟"。"诵"决不仅仅是"口"</tspan><tspan x="2177" y="2975.65">的发音活动，同时包含了丰富的思维活动和情</tspan><tspan x="2177" y="2990.3">感活动，朗读也是一种艺术的再创造。它在使</tspan><tspan x="2177" y="3004.95">无声的书面语言变成有声有色的口头语言的过</tspan><tspan x="2177" y="3019.6">程中，眼、口、耳、心、脑等多种感官并用。</tspan><tspan x="2177" y="3034.25">学习语言，主要不是依靠理性分析，而是靠语</tspan><tspan x="2177" y="3048.9">言的直接感受和积累。语言正是在反复的实践</tspan><tspan x="2177" y="3063.55">中形成一种习惯，"少成若天性，习惯成自然"</tspan><tspan x="2177" y="3078.2">，"书读百遍，其义自见"。</tspan></text><line class="u" x1="2171" y1="3086.4" x2="2410" y2="3086.4"/></g>
<g id="R5_4b"><text class="t"><tspan x="2023" y="3128.5">2.实施快乐学习法。教师引导学生慢读、快读</tspan><tspan x="2023" y="3143">、熟读、诵读之历程，让学生在默读、轻声读</tspan><tspan x="2023" y="3158">、分组读、齐读，轮读、示范读、听读等多种</tspan><tspan x="2023" y="3172.5">形式中水到渠成地熟读成诵。</tspan></text><line class="u" x1="2017" y1="3181.5" x2="2256" y2="3181.5"/></g>
<g id="R5_4c"><text class="t"><tspan x="2023" y="3223.6">3.营造氛围，让校园处处弥漫着浓郁的书香气</tspan><tspan x="2023" y="3238">。班级精选古诗文、名言警句布置楼道、橱窗</tspan><tspan x="2023" y="3253">。在校园广播、橱窗、板报等媒介开辟国学经</tspan><tspan x="2023" y="3267.6">典诵读专栏，让学生时时处处沐浴其中，得到</tspan><tspan x="2023" y="3282">熏陶、感染、浸润。</tspan></text><line class="u" x1="2017" y1="3291" x2="2256" y2="3291"/></g>
<g id="R5_4d"><text class="t" x="2023" y="3442.5">4、教师指导:</text><line class="u" x1="2017" y1="3451" x2="2111" y2="3451"/></g>
<g id="R5_4d1"><text class="t"><tspan x="2130" y="3333">(1)、语文教师：负责主要任务，多作指导；所</tspan><tspan x="2130" y="3348">谓经书不厌百回读，熟读深思子自知。只要学</tspan><tspan x="2130" y="3363">生能熟练背诵，里面的意思自会理解，对于一</tspan><tspan x="2130" y="3377">些典故，教师适当作一些指导。</tspan></text><line class="u" x1="2124" y1="3385.6" x2="2364" y2="3385.6"/></g>
<g id="R5_4d2"><text class="t"><tspan x="2130" y="3428">(2)、班主任（中队辅导员）：利用班会、晨会</tspan><tspan x="2130" y="3442.5">、队会等活动组织指导开展。</tspan></text><line class="u" x1="2124" y1="3451" x2="2364" y2="3451"/></g>
<g id="R5_4d3"><text class="t"><tspan x="2130" y="3493.6">(3)、音乐教师：利用音乐课对学生进行经典诵</tspan><tspan x="2130" y="3508">唱。</tspan></text><line class="u" x1="2124" y1="3517" x2="2364" y2="3517"/></g>
<g id="R5_4e"><text class="t" x="2023" y="3662">5、开展经典诵读比赛，选拔优秀作品参赛。</text><line class="u" x1="2017" y1="3671.5" x2="2254" y2="3671.5"/></g>
<g id="R5_4e1"><text class="t"><tspan x="2278.6" y="3559">在实施过程中，以诵读经典为载体，以课堂教</tspan><tspan x="2278.6" y="3573.6">育为主阵地，以师资建设为抓手，以校本特色</tspan><tspan x="2278.6" y="3588.2">课程建设为突破口，全面推进国学经典诵读活</tspan><tspan x="2278.6" y="3602.8">动，营造人人能够吟诵，班班诵读经典的氛围</tspan><tspan x="2278.6" y="3617.4">。通过各种形式诵读活动的开展，引导学生从</tspan><tspan x="2278.6" y="3632">传统的优秀经典诗文中寻求滋养，在传统文化</tspan><tspan x="2278.6" y="3646.6">积淀的过程中突出创新人格与现代精神的培养</tspan><tspan x="2278.6" y="3663">。</tspan></text><line class="u" x1="2272" y1="3671.5" x2="2530" y2="3671.5"/></g>

<g id="watermarks">
<text class="wm" transform="translate(350,700) rotate(-31)">树图 shutu.cn</text>
<text class="wm" transform="translate(1628,700) rotate(-31)">树图 shutu.cn</text>
<text class="wm" transform="translate(350,1705) rotate(-31)">树图 shutu.cn</text>
<text class="wm" transform="translate(1628,1705) rotate(-31)">树图 shutu.cn</text>
<text class="wm" transform="translate(350,2708) rotate(-31)">树图 shutu.cn</text>
<text class="wm" transform="translate(1628,2708) rotate(-31)">树图 shutu.cn</text>
<text class="wm" transform="translate(356,3688) rotate(-31)">树图 shutu.cn</text>
<text class="wm" transform="translate(1634,3688) rotate(-31)">树图 shutu.cn</text>
</g>
</svg>
